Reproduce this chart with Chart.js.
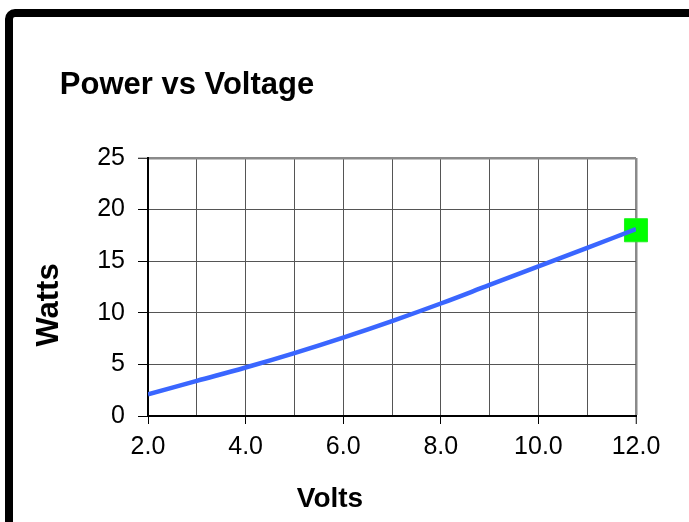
<!DOCTYPE html>
<html>
<head>
<meta charset="utf-8">
<script src="https://cdn.jsdelivr.net/npm/chart.js@4.4.1/dist/chart.umd.min.js"></script>
<style>
  html, body { margin: 0; padding: 0; background: #fff; }
  #wrap { position: relative; width: 689px; height: 522px; overflow: hidden; }
  #frame {
    position: absolute; left: 5px; top: 9px; width: 760px; height: 620px;
    border: 8px solid #000; border-radius: 10px; box-sizing: border-box;
  }
  #myChart { position: absolute; left: 0; top: 0; }
</style>
</head>
<body>
<div id="wrap">
  <div id="frame"></div>
  <canvas id="myChart" width="689" height="522"></canvas>
</div>
<script>
// data
const volts = [2, 3, 4, 5, 6, 7, 8, 9, 10, 11, 12];
const watts = [2.1, 3.4, 4.7, 6.1, 7.6, 9.2, 10.9, 12.7, 14.5, 16.3, 18.1];
const markerVolts = [12];
const markerWatts = [18.0];
const xTickLabels = ['2.0', '4.0', '6.0', '8.0', '10.0', '12.0'];
const yTickLabels = ['0', '5', '10', '15', '20', '25'];

const chartTitle = 'Power vs Voltage';
const xTitle = 'Volts';
const yTitle = 'Watts';

const FONT = '"Liberation Sans", Arial, Helvetica, sans-serif';

// titles drawn at the spots the reference puts them
const titlePlugin = {
    id: 'titles',
    afterDraw(chart) {
        const ctx = chart.ctx;
        ctx.save();
        ctx.fillStyle = '#000';
        ctx.textBaseline = 'alphabetic';
        ctx.textAlign = 'center';
        ctx.font = 'bold 31px ' + FONT;
        ctx.fillText(chartTitle, 187, 94);
        ctx.font = 'bold 28px ' + FONT;
        ctx.fillText(xTitle, 330, 507);
        ctx.translate(58, 305);
        ctx.rotate(-Math.PI / 2);
        ctx.font = 'bold 31px ' + FONT;
        ctx.fillText(yTitle, 0, 0);
        ctx.restore();
    }
};

const ctx = document.getElementById('myChart');
new Chart(ctx, {
    type: 'line',
    data: {
        datasets: [
            {
                label: 'Power',
                data: volts.map((v, i) => ({ x: v, y: watts[i] })),
                borderColor: '#3a66ff',
                borderWidth: 4.5,
                pointRadius: 0,
                tension: 0.4,
                fill: false,
            },
            {
                label: 'Marker',
                data: markerVolts.map((v, i) => ({ x: v, y: markerWatts[i] })),
                showLine: false,
                pointStyle: 'rect',
                pointRadius: 16.3,
                backgroundColor: '#00ff00',
                borderColor: '#20f020',
                borderWidth: 1,
                clip: false,
            },
        ],
    },
    options: {
        responsive: false,
        animation: false,
        layout: {
            padding: { top: 158, right: 53, bottom: 0, left: 0 },
        },
        plugins: {
            legend: { display: false },
            tooltip: { enabled: false },
            title: { display: false },
        },
        scales: {
            x: {
                type: 'linear',
                min: 2,
                max: 12,
                afterFit: (scale) => { scale.height = 106; },
                ticks: {
                    stepSize: 1,
                    autoSkip: false,
                    maxRotation: 0,
                    padding: 8,
                    color: '#000',
                    font: { family: FONT, size: 25 },
                    callback: (v) => {
                        const lbl = v.toFixed(1);
                        return xTickLabels.includes(lbl) ? lbl : '';
                    },
                },
                grid: {
                    color: (c) => (c.tick && c.tick.value === 12 ? '#8a8a8a' : '#555'),
                    lineWidth: (c) => (c.tick && c.tick.value === 12 ? 2.5 : 1),
                    tickLength: 8,
                    tickWidth: 1,
                    tickColor: (c) => (c.tick && c.tick.value % 2 === 0 ? '#000' : 'rgba(0,0,0,0)'),
                },
                border: { color: '#000', width: 2 },
            },
            y: {
                min: 0,
                max: 25,
                afterFit: (scale) => { scale.width = 148; },
                ticks: {
                    stepSize: 5,
                    padding: 13,
                    color: '#000',
                    font: { family: FONT, size: 25 },
                    callback: (v) => (yTickLabels.includes(String(v)) ? String(v) : ''),
                },
                grid: {
                    color: (c) => (c.tick && c.tick.value === 25 ? '#8a8a8a' : '#555'),
                    lineWidth: (c) => (c.tick && c.tick.value === 25 ? 2.5 : 1),
                    tickLength: 10,
                    tickWidth: 1,
                    tickColor: '#000',
                },
                border: { color: '#000', width: 2 },
            },
        },
    },
    plugins: [titlePlugin],
});
</script>
</body>
</html>
